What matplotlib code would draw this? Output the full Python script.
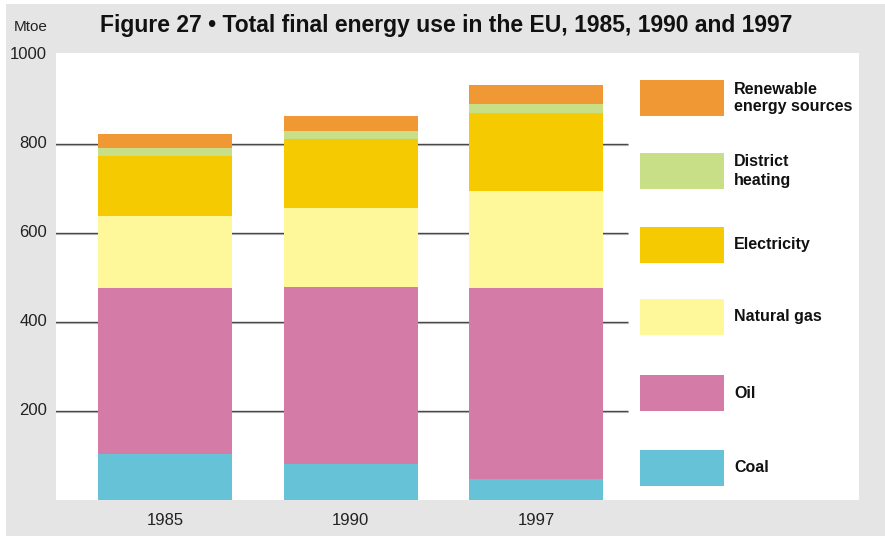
import matplotlib
matplotlib.use("Agg")
import matplotlib.pyplot as plt
from matplotlib.patches import Rectangle

# Final energy use by source (Mtoe)
years = ["1985", "1990", "1997"]
coal = [103, 81, 46]
oil = [372, 397, 429]
natural_gas = [162, 177, 219]
electricity = [135, 155, 175]
district_heating = [18, 18, 20]
renewables = [32, 34, 43]

series_names = ["Coal", "Oil", "Natural gas", "Electricity",
                "District\nheating", "Renewable\nenergy sources"]
series_values = [coal, oil, natural_gas, electricity, district_heating, renewables]
series_colors = ["#66c2d7", "#d47ba8", "#fef89a", "#f5ca00", "#c8df87", "#ef9834"]
y_ticks = [200, 400, 600, 800, 1000]

W, H = 885, 536
fig = plt.figure(figsize=(W / 100, H / 100), dpi=100, facecolor="white")

# grey panel behind everything
fig.patches.append(Rectangle((6 / W, 0), 1 - 6 / W, 1 - 4 / H,
                             transform=fig.transFigure, facecolor="#e5e5e5",
                             edgecolor="none", zorder=-10))

ax = fig.add_axes([56 / W, (H - 499.7) / H, (859 - 56) / W, (499.7 - 53) / H])
ax.set_zorder(1)
ax.set_facecolor("white")
ax.set_xlim(-0.588, 3.741)
ax.set_ylim(0, 1004)
for s in ax.spines.values():
    s.set_visible(False)
ax.set_xticks([])
ax.set_yticks([])

font = ["Liberation Sans", "DejaVu Sans"]

# horizontal gridlines with a faint shadow, stopping short of the legend
for t in y_ticks[:-1]:
    ax.hlines(t, -0.6, 2.496, color="#444444", lw=1.0, zorder=1)
    ax.hlines(t - 2.3, -0.6, 2.496, color="#aaaaaa", lw=0.8, zorder=1)

x = list(range(len(years)))
bottom = [0] * len(years)
for vals, col in zip(series_values, series_colors):
    ax.bar(x, vals, width=0.722, bottom=bottom, color=col, zorder=2)
    bottom = [b + v for b, v in zip(bottom, vals)]

# y tick labels on the grey margin
for t in y_ticks:
    ax.text(-0.588 - 9 / 185.5, t, str(t), ha="right", va="center",
            fontsize=12, family=font, color="#222222", clip_on=False)
fig.text(14 / W, 1 - 31 / H, "Mtoe", ha="left", va="baseline",
         fontsize=11, family=font, color="#222222")

# year labels below bars
for xi, yr in zip(x, years):
    ax.text(xi, -47, yr, ha="center", va="center", fontsize=12,
            family=font, color="#222222", clip_on=False)

# legend boxes
legend_tops = [450, 375, 299, 227, 153, 80]
for name, col, top in zip(series_names, series_colors, legend_tops):
    fig.patches.append(Rectangle((640 / W, 1 - (top + 36) / H), 84 / W, 36 / H,
                                 transform=fig.transFigure, facecolor=col,
                                 edgecolor="none", zorder=3))
    fig.text(734 / W, 1 - (top + 18) / H, name, ha="left", va="center",
             fontsize=11.5, fontweight="bold", family=font,
             linespacing=1.25, color="#111111", zorder=4)

fig.text(100 / W, 1 - 32 / H,
         "Figure 27 \u2022 Total final energy use in the EU, 1985, 1990 and 1997",
         ha="left", va="baseline", fontsize=16.5, fontweight="bold",
         family=font, color="#111111")

fig.savefig("out.png", dpi=100, facecolor=fig.get_facecolor())
